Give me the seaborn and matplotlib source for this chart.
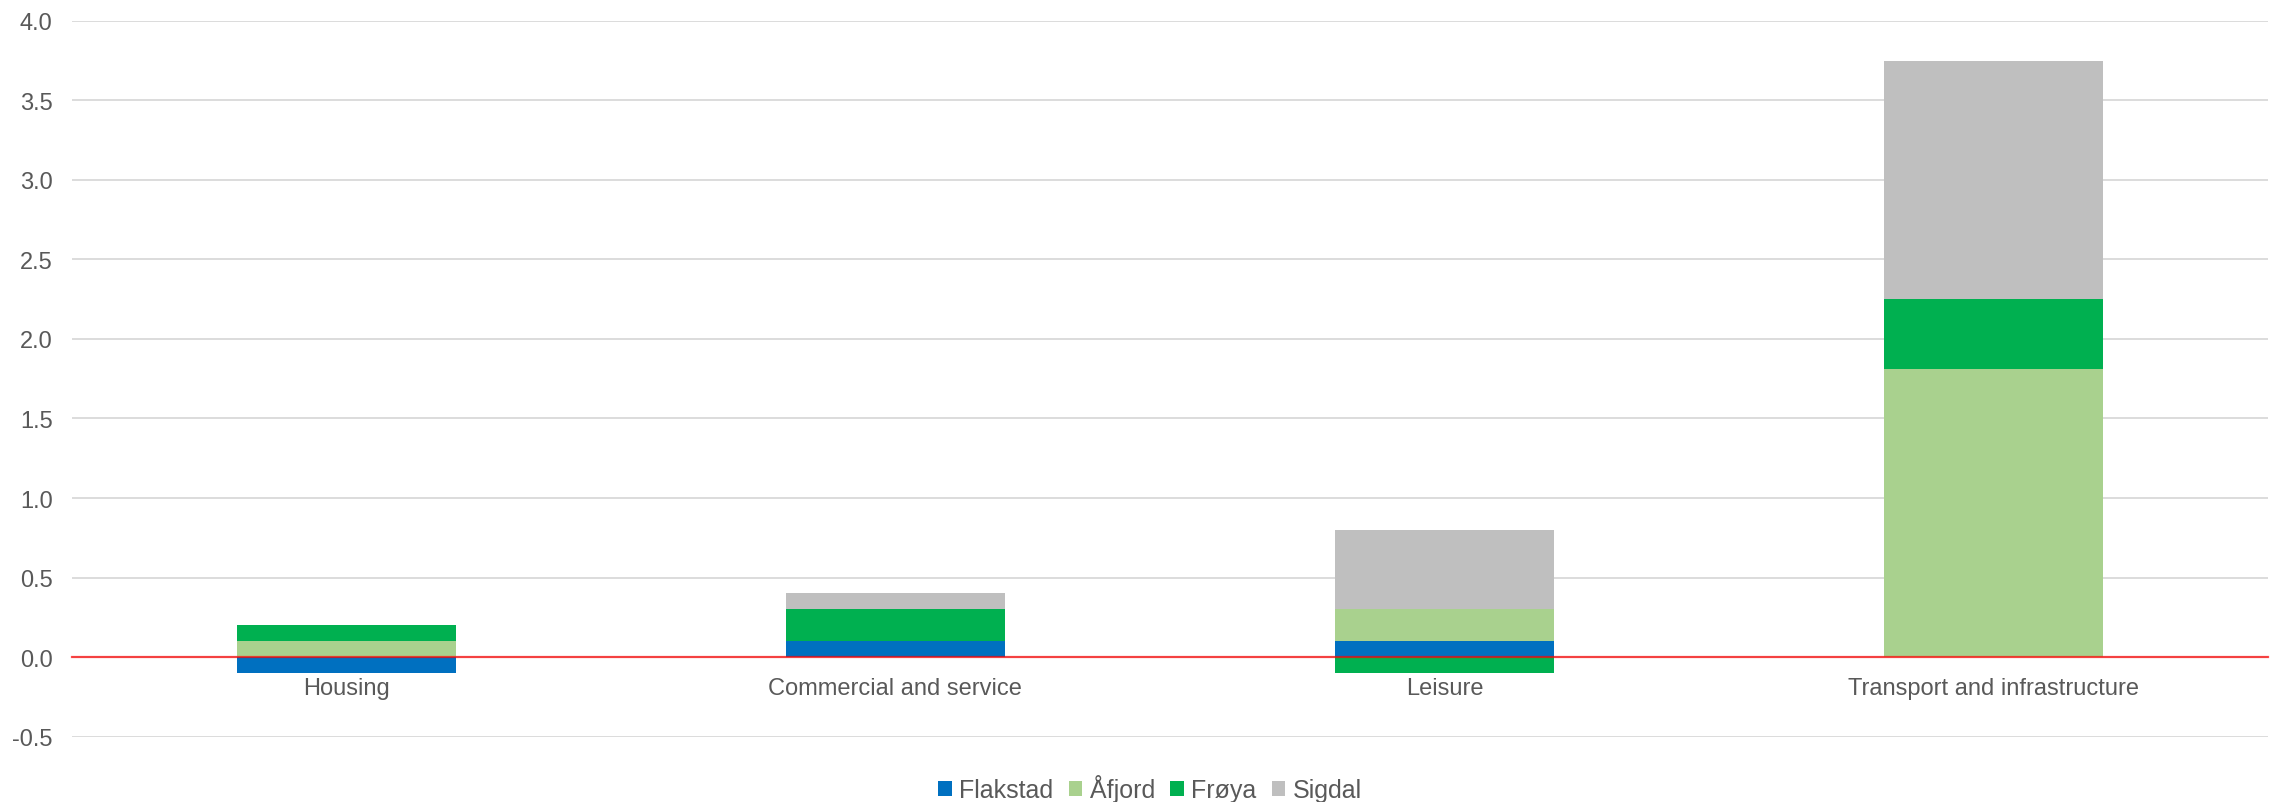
import numpy as np
import pandas as pd
import matplotlib
matplotlib.use('Agg')
import matplotlib.pyplot as plt
import seaborn as sns

# ---------------------------- DATA ---------------------------------

categories = ["Housing", "Commercial and service", "Leisure", "Transport and infrastructure"]

flakstad = [-0.1, 0.1, 0.1, 0.0]
afjord = [0.1, 0.0, 0.2, 1.81]
froya = [0.1, 0.2, -0.1, 0.44]
sigdal = [0.0, 0.1, 0.5, 1.50]

series_names = ["Flakstad", "Åfjord", "Frøya", "Sigdal"]
series_values = [flakstad, afjord, froya, sigdal]
series_colors = ["#0070C0", "#A9D18E", "#00B050", "#BFBFBF"]

y_ticks = [-0.5, 0.0, 0.5, 1.0, 1.5, 2.0, 2.5, 3.0, 3.5, 4.0]

TEXT_COLOR = "#595959"
GRID_COLOR = "#D9D9D9"

# ---------------------------- PLOT ---------------------------------

sns.set_theme(style="white")
plt.rcParams['font.family'] = ['Liberation Sans', 'DejaVu Sans']
plt.rcParams['axes.unicode_minus'] = False

fig = plt.figure(figsize=(22.77, 8.03), dpi=100)
ax = fig.add_axes([0.0316, 0.0814, 0.9644, 0.8915])

# stack positives upward and negatives downward, like Excel
pos_base = np.zeros(len(categories))
neg_base = np.zeros(len(categories))
for name, vals, col in zip(series_names, series_values, series_colors):
    vals = np.array(vals, dtype=float)
    bottom = np.where(vals >= 0, pos_base, neg_base)
    df = pd.DataFrame({"category": categories, "value": vals})
    sns.barplot(data=df, x="category", y="value", order=categories,
                color=col, saturation=1, width=0.4, bottom=bottom,
                linewidth=0, errorbar=None, label=name, ax=ax)
    pos_base = pos_base + np.clip(vals, 0, None)
    neg_base = neg_base + np.clip(vals, None, 0)

ax.set_xlim(-0.5, len(categories) - 0.5)
ax.set_ylim(-0.5, 4.0)
ax.set_yticks(y_ticks)
ax.set_yticklabels([f"{v:.1f}" for v in y_ticks])
ax.set_xlabel("")
ax.set_ylabel("")

ax.set_axisbelow(True)
ax.yaxis.grid(True, color=GRID_COLOR, linewidth=1.3)
ax.xaxis.grid(False)

for side in ["left", "right", "top"]:
    ax.spines[side].set_visible(False)
ax.spines["bottom"].set_position(("data", 0))
ax.spines["bottom"].set_color("#FF0000")
ax.spines["bottom"].set_alpha(0.7)
ax.spines["bottom"].set_linewidth(1.6)
ax.spines["bottom"].set_zorder(3)

ax.tick_params(axis="x", length=0, pad=14, labelsize=17, labelcolor=TEXT_COLOR)
ax.tick_params(axis="y", length=0, pad=14, labelsize=17, labelcolor=TEXT_COLOR)

leg = ax.legend(loc="center", bbox_to_anchor=(1150 / 2277, 0.017),
                bbox_transform=fig.transFigure, ncol=4, frameon=False,
                fontsize=18, handlelength=0.55, handleheight=0.55,
                handletextpad=0.3, columnspacing=0.6)
for t in leg.get_texts():
    t.set_color(TEXT_COLOR)

fig.savefig("out.png", dpi=100)
